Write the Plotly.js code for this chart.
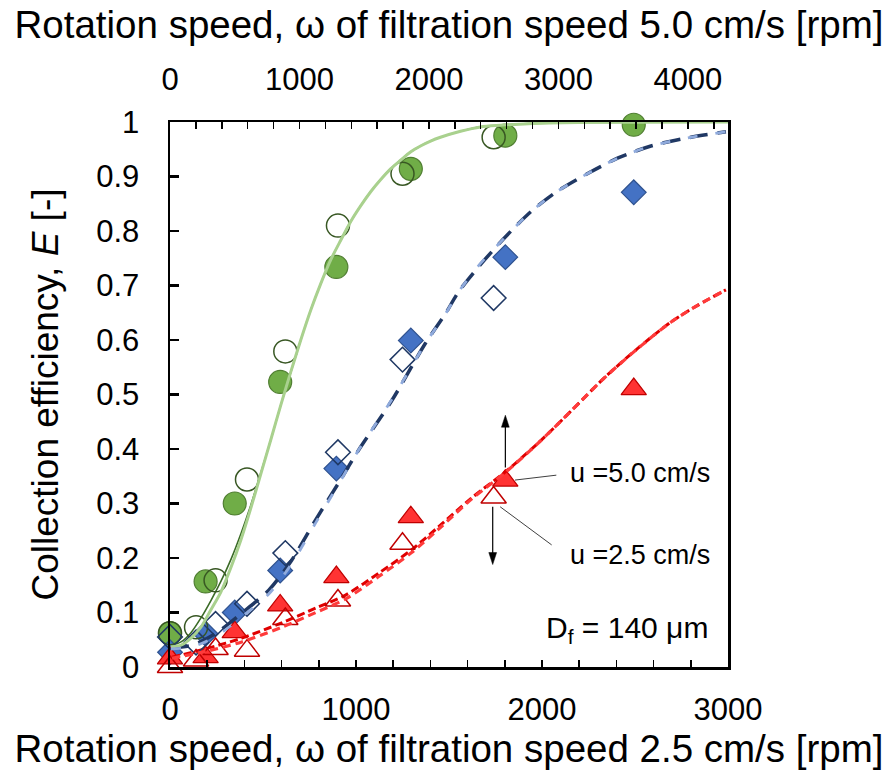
<!DOCTYPE html>
<html><head><meta charset="utf-8">
<script src="https://cdn.plot.ly/plotly-3.0.1.min.js"></script>
<style>html,body{margin:0;padding:0;background:#fff}#chart{width:886px;height:778px}</style>
</head><body><div id="chart"></div>
<script>
// ---- measured points: hollow = u 2.5 cm/s (bottom axis), filled = u 5.0 cm/s (top axis)
const openX  = [0, 140, 245, 414, 620, 903, 1250, 1740];
const fillX  = [0, 275, 500, 851, 1285, 1860, 2590, 3582];

const greenOpenY = [0.062, 0.073, 0.159, 0.344, 0.579, 0.810, 0.905, 0.972];
const greenFillY = [0.062, 0.157, 0.300, 0.523, 0.734, 0.914, 0.975, 0.995];
const blueOpenY  = [0.055, 0.045, 0.079, 0.116, 0.209, 0.394, 0.564, 0.677];
const blueFillY  = [0.027, 0.061, 0.100, 0.177, 0.364, 0.599, 0.752, 0.871];
const redOpenY   = [0.000, 0.012, 0.033, 0.030, 0.088, 0.122, 0.226, 0.311];
const redFillY   = [0.016, 0.018, 0.064, 0.113, 0.165, 0.275, 0.342, 0.510];

// ---- fitted curves
const gLightX = [5, 59, 113, 166, 220, 274, 327, 381, 435, 488, 542, 596, 649, 703, 757, 810, 864, 918, 971, 1025, 1079, 1132, 1186, 1240, 1293, 1347, 1401, 1454, 1562, 1669, 1776, 1927, 2195, 2517, 3000];
const gLightY = [0.037, 0.040, 0.053, 0.073, 0.105, 0.138, 0.182, 0.233, 0.292, 0.354, 0.417, 0.481, 0.541, 0.600, 0.655, 0.703, 0.747, 0.783, 0.817, 0.846, 0.872, 0.894, 0.914, 0.930, 0.945, 0.956, 0.965, 0.972, 0.983, 0.991, 0.994, 0.997, 0.999, 0.9995, 1.0];
const gDarkX = [8, 85, 162, 239, 316, 393, 470, 547, 624, 701, 779, 856, 933, 1010, 1087, 1164, 1241, 1318, 1395, 1472, 1549, 1626, 1704, 1781, 1858, 1935, 2012, 2089, 2243, 2397, 2551, 2767, 3153, 3615, 4309];
const gDarkY = [0.039, 0.046, 0.063, 0.090, 0.122, 0.157, 0.197, 0.244, 0.297, 0.356, 0.417, 0.481, 0.541, 0.600, 0.655, 0.703, 0.747, 0.783, 0.817, 0.846, 0.872, 0.894, 0.914, 0.930, 0.945, 0.956, 0.965, 0.972, 0.983, 0.991, 0.994, 0.997, 0.999, 0.9995, 1.0];

const bLightX = [5, 118, 247, 386, 531, 655, 784, 907, 1014, 1191, 1374, 1481, 1551, 1658, 1803, 1943, 2088, 2249, 2410, 2587, 2785, 2989];
const bLightY = [0.033, 0.037, 0.056, 0.092, 0.134, 0.190, 0.265, 0.336, 0.398, 0.490, 0.594, 0.648, 0.688, 0.736, 0.789, 0.836, 0.874, 0.906, 0.934, 0.956, 0.971, 0.982];
const bDarkX = [8, 170, 355, 555, 763, 940, 1125, 1303, 1457, 1711, 1973, 2127, 2228, 2382, 2590, 2790, 2999, 3230, 3461, 3715, 4001, 4294];
const bDarkY = [0.035, 0.040, 0.062, 0.099, 0.141, 0.196, 0.270, 0.338, 0.398, 0.488, 0.594, 0.648, 0.688, 0.734, 0.789, 0.836, 0.874, 0.906, 0.934, 0.956, 0.971, 0.982];

const rLightX = [11, 209, 386, 601, 784, 945, 1122, 1299, 1444, 1621, 1803, 1980, 2157, 2340, 2517, 2694, 2839, 2989];
const rLightY = [0.016, 0.030, 0.046, 0.073, 0.100, 0.125, 0.166, 0.210, 0.253, 0.308, 0.357, 0.411, 0.470, 0.532, 0.585, 0.633, 0.664, 0.692];
const rDarkX = [15, 301, 555, 863, 1125, 1356, 1611, 1865, 2073, 2328, 2590, 2844, 3099, 3361, 3615, 3869, 4078, 4294];
const rDarkY = [0.018, 0.035, 0.053, 0.081, 0.108, 0.132, 0.172, 0.215, 0.257, 0.310, 0.358, 0.411, 0.470, 0.532, 0.585, 0.633, 0.664, 0.692];

const topTicks = [0,200,400,600,800,1000,1200,1400,1600,1800,2000,2200,2400,2600,2800,3000,3200,3400,3600,3800,4000,4200];
const botTicks = [0,200,400,600,800,1000,1200,1400,1600,1800,2000,2200,2400,2600,2800,3000];
const yTicks = [0,0.1,0.2,0.3,0.4,0.5,0.6,0.7,0.8,0.9,1];
const yTickText = ['0','0.1','0.2','0.3','0.4','0.5','0.6','0.7','0.8','0.9','1'];

const FONT = 'Liberation Sans, Arial, sans-serif';
const lbl = v => (v % 1000 === 0 ? String(v) : '');
// 'x' = top axis (u = 5.0 cm/s), 'x2' = bottom axis (u = 2.5 cm/s, drawn above)
const TOP = 'x', BOT = 'x2';

function pts(x, y, axis, symbol, size, color, lineColor, lw) {
  return {x, y, xaxis: axis, yaxis: 'y', type: 'scatter', mode: 'markers', cliponaxis: false,
    hoverinfo: 'skip', showlegend: false,
    marker: {symbol, size, color, line: {color: lineColor, width: lw}}};
}
function curve(x, y, axis, color, width, dash) {
  return {x, y, xaxis: axis, yaxis: 'y', type: 'scatter', mode: 'lines', cliponaxis: false,
    hoverinfo: 'skip', showlegend: false,
    line: {color, width, dash, shape: 'spline', smoothing: 0.8}};
}

const data = [
  pts(fillX, greenFillY, TOP, 'circle', 23, '#70AD47', '#507E32', 1.2),
  pts(fillX, blueFillY, TOP, 'diamond', 19, '#4472C4', '#2F528F', 1.2),
  pts(fillX, redFillY, TOP, 'triangle-up', 22, '#FF3333', '#C00000', 1.2),
  curve(gDarkX, gDarkY, TOP, '#3B6B27', 1.6, 'solid'),
  curve(bDarkX, bDarkY, TOP, '#203864', 3.5, '18px,10px'),
  curve(rDarkX, rDarkY, TOP, '#E00000', 3, '8px,4px'),
  pts(openX, greenOpenY, BOT, 'circle-open', 23, '#385723', '#385723', 1.5),
  pts(openX, blueOpenY, BOT, 'diamond-open', 19, '#1F3864', '#1F3864', 1.5),
  pts(openX, redOpenY, BOT, 'triangle-up-open', 22, '#C00000', '#C00000', 1.5),
  curve(gLightX, gLightY, BOT, '#A9D18E', 3, 'solid'),
  curve(bLightX, bLightY, BOT, '#8FAADC', 2.8, '10px,18px'),
  curve(rLightX, rLightY, BOT, '#FF3B3B', 3.2, '8px,5px')
];

const layout = {
  width: 886, height: 778,
  margin: {l: 170, r: 158, t: 122, b: 111, pad: 0},
  paper_bgcolor: '#fff', plot_bgcolor: '#fff',
  font: {family: FONT, color: '#000'},
  showlegend: false,
  xaxis: {
    range: [0, 4310], side: 'top', anchor: 'y',
    showgrid: false, zeroline: false,
    showline: true, linecolor: '#000', linewidth: 2.5,
    ticks: 'inside', ticklen: 7, tickwidth: 1.5, tickcolor: '#000',
    tickvals: topTicks, ticktext: topTicks.map(lbl),
    tickfont: {size: 31, family: FONT}, ticklabelstandoff: 17,
    title: {text: 'Rotation speed, ω of filtration speed 5.0 cm/s [rpm]', font: {size: 38.5, family: FONT}, standoff: 12}
  },
  xaxis2: {
    range: [0, 3000], overlaying: 'x', side: 'bottom', anchor: 'y',
    showgrid: false, zeroline: false,
    showline: true, linecolor: '#000', linewidth: 2.5,
    ticks: 'inside', ticklen: 7, tickwidth: 1.5, tickcolor: '#000',
    tickvals: botTicks, ticktext: botTicks.map(lbl),
    tickfont: {size: 31, family: FONT}, ticklabelstandoff: 13,
    title: {text: 'Rotation speed, ω of filtration speed 2.5 cm/s [rpm]', font: {size: 38.5, family: FONT}, standoff: 2}
  },
  yaxis: {
    range: [0, 1], anchor: 'x', showgrid: false, zeroline: false,
    showline: true, mirror: true, linecolor: '#000', linewidth: 2.5,
    ticks: 'inside', ticklen: 9, tickwidth: 2.5, tickcolor: '#000',
    tickvals: yTicks, ticktext: yTickText,
    tickfont: {size: 31, family: FONT}, ticklabelstandoff: 22,
    title: {text: 'Collection efficiency, <i>E</i> [-]', font: {size: 37, family: FONT}, standoff: 26}
  },
  shapes: [
    {type: 'line', xref: 'x2', yref: 'y', x0: 1855, y0: 0.343, x1: 2077, y1: 0.352, line: {color: '#404040', width: 1}},
    {type: 'line', xref: 'x2', yref: 'y', x0: 1775, y0: 0.294, x1: 2052, y1: 0.224, line: {color: '#404040', width: 1}},
    {type: 'line', xref: 'x2', yref: 'y', x0: 1803, y0: 0.366, x1: 1803, y1: 0.445, line: {color: '#000', width: 1.2}},
    {type: 'path', xref: 'x2', yref: 'y', path: 'M 1782,0.440 L 1824,0.440 L 1803,0.462 Z', fillcolor: '#000', line: {color: '#000', width: 0.5}},
    {type: 'line', xref: 'x2', yref: 'y', x0: 1735, y0: 0.294, x1: 1735, y1: 0.205, line: {color: '#000', width: 1.2}},
    {type: 'path', xref: 'x2', yref: 'y', path: 'M 1714,0.210 L 1756,0.210 L 1735,0.188 Z', fillcolor: '#000', line: {color: '#000', width: 0.5}}
  ],
  annotations: [
    {xref: 'x2', yref: 'y', x: 2141, y: 0.356, xanchor: 'left', yanchor: 'middle', showarrow: false,
     text: 'u =5.0 cm/s', font: {size: 27, family: FONT, color: '#000'}},
    {xref: 'x2', yref: 'y', x: 2141, y: 0.206, xanchor: 'left', yanchor: 'middle', showarrow: false,
     text: 'u =2.5 cm/s', font: {size: 27, family: FONT, color: '#000'}},
    {xref: 'x2', yref: 'y', x: 2905, y: 0.068, xanchor: 'right', yanchor: 'middle', showarrow: false,
     text: 'D<sub>f</sub> = 140 μm', font: {size: 30, family: FONT, color: '#000'}}
  ]
};

Plotly.newPlot('chart', data, layout, {staticPlot: true, displayModeBar: false});
</script></body></html>
